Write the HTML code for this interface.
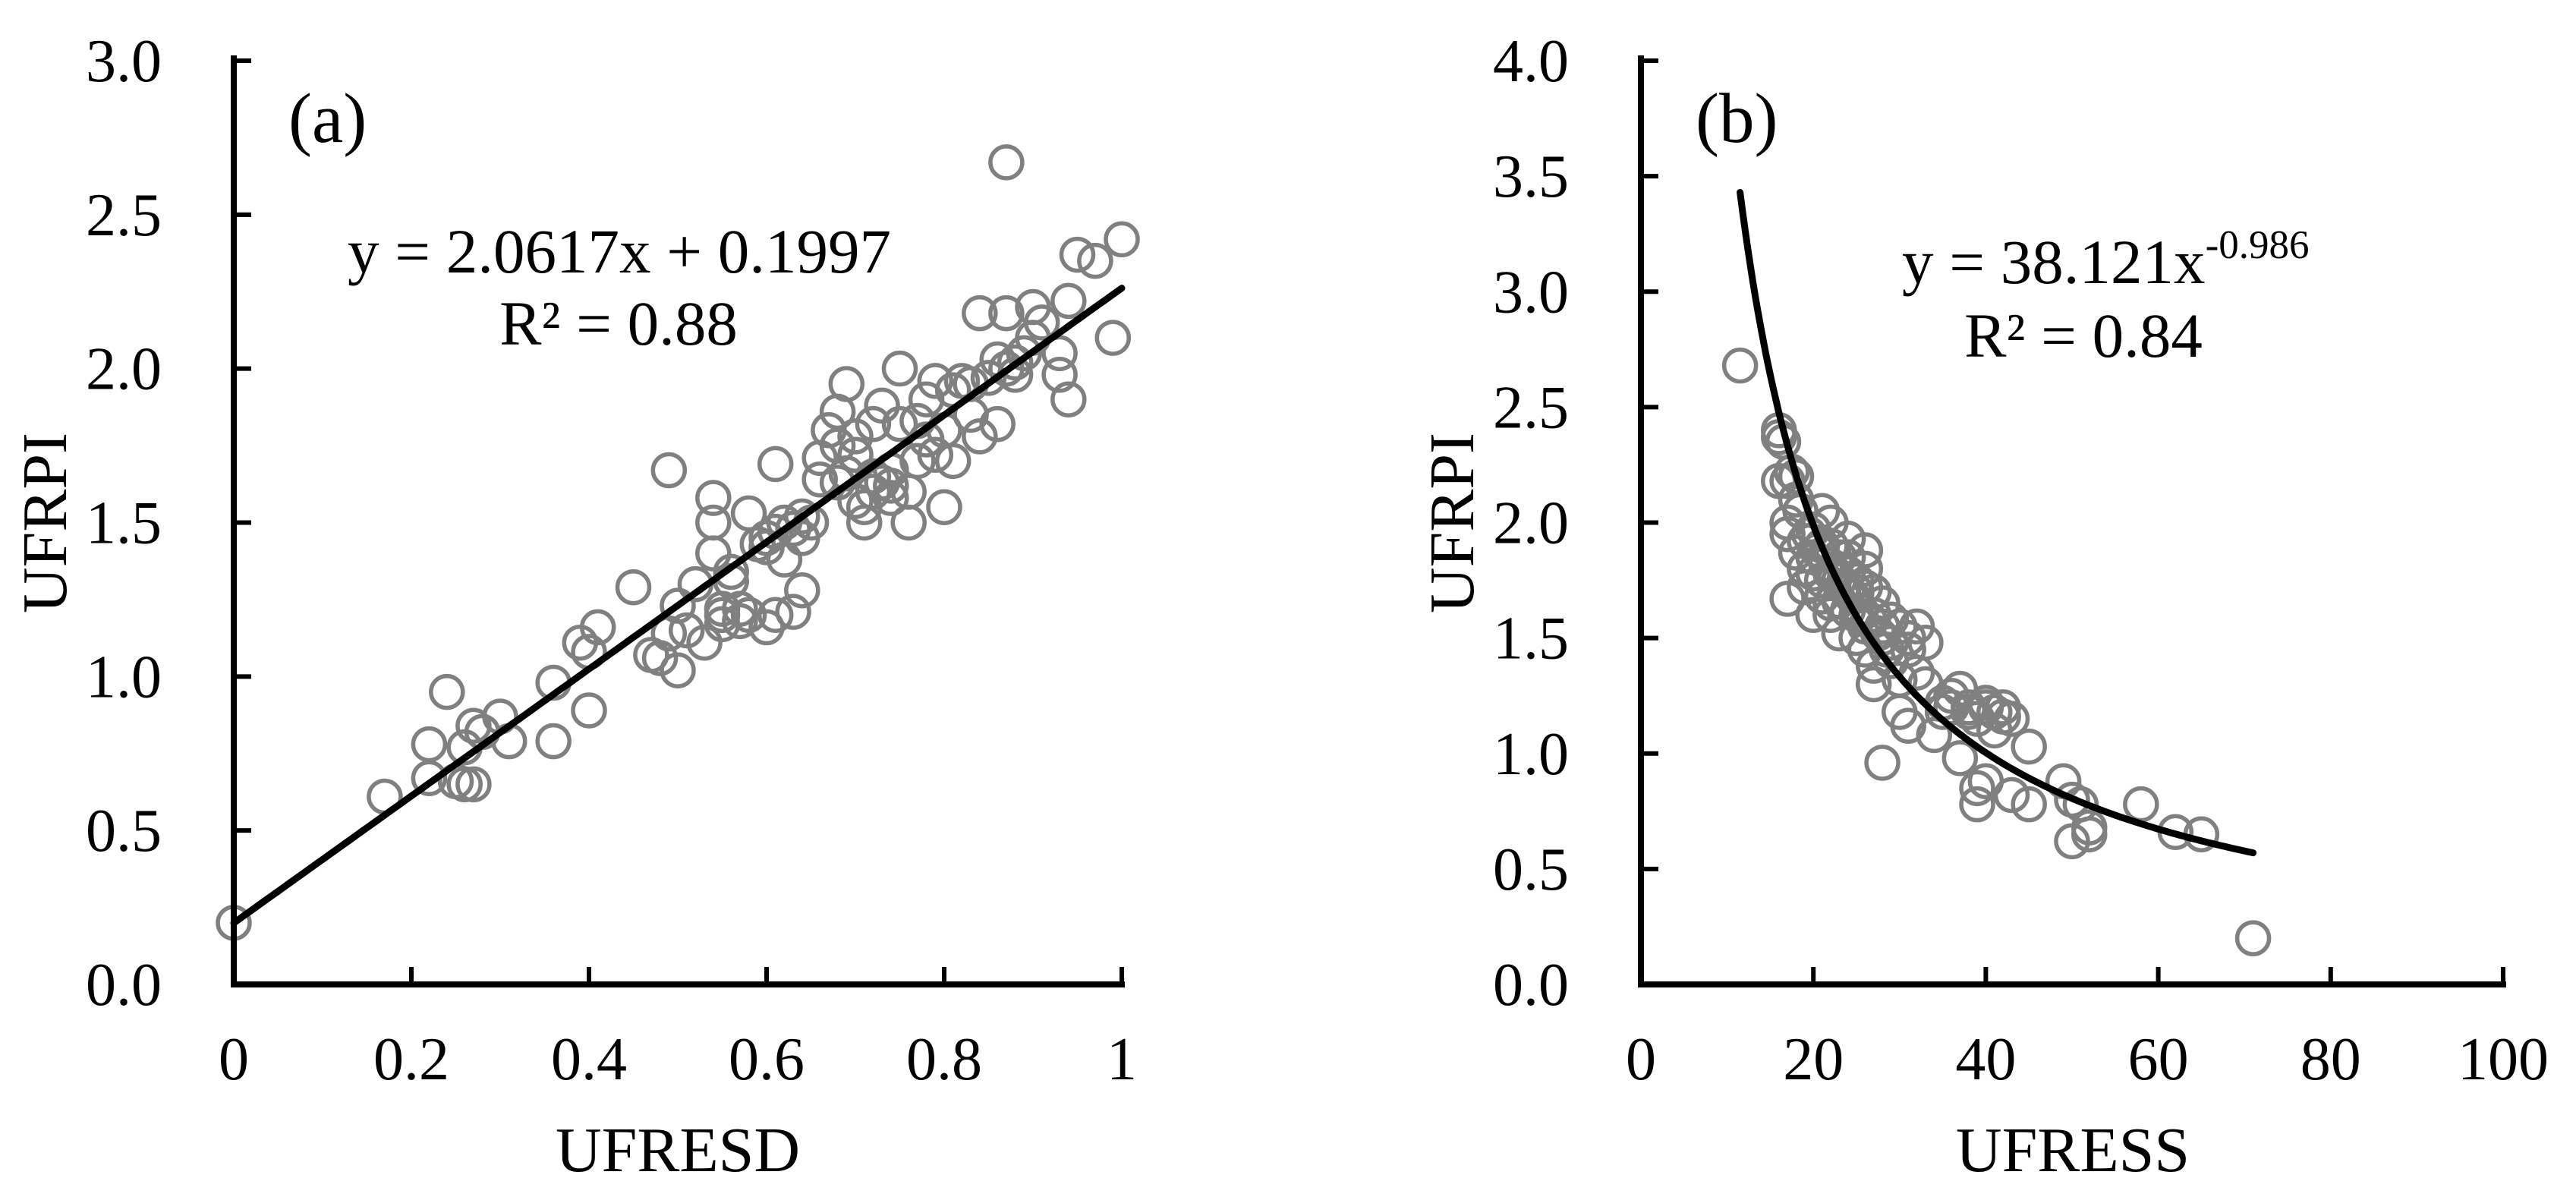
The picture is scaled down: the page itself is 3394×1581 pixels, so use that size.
<!DOCTYPE html>
<html><head><meta charset="utf-8">
<style>
html,body{margin:0;padding:0;background:#fff;}
svg{display:block;}
text{font-family:"Liberation Serif","DejaVu Serif",serif;fill:#000;}
</style></head>
<body>
<svg id="chart" width="3394" height="1581" viewBox="0 0 3394 1581" xmlns="http://www.w3.org/2000/svg">
<g id="pa"></g>
<g id="pb"></g>
</svg>
<script>
// Panel (a) data
const aX = [0,0.17,0.22,0.22,0.24,0.25,0.26,0.27,0.27,0.28,0.3,0.31,0.36,0.36,0.39,0.4,0.4,0.41,0.45,0.47,0.48,0.49,0.49,0.5,0.5,0.51,0.52,0.53,0.54,0.54,0.54,0.55,0.55,0.56,0.56,0.57,0.57,0.58,0.58,0.59,0.6,0.6,0.61,0.61,0.61,0.62,0.62,0.63,0.63,0.64,0.64,0.64,0.65,0.66,0.66,0.67,0.68,0.68,0.69,0.69,0.7,0.7,0.7,0.71,0.71,0.72,0.72,0.73,0.73,0.74,0.74,0.75,0.75,0.76,0.76,0.77,0.77,0.78,0.79,0.79,0.8,0.8,0.81,0.81,0.82,0.83,0.84,0.84,0.85,0.86,0.86,0.87,0.87,0.87,0.88,0.89,0.9,0.9,0.91,0.93,0.94,0.94,0.95,0.97,0.99,1.0,0.93,0.78,0.68,0.26,0.55,0.6,0.72,0.74,0.83,0.88];
const aY = [0.2,0.61,0.78,0.67,0.95,0.66,0.65,0.84,0.65,0.82,0.87,0.79,0.98,0.79,1.11,1.08,0.89,1.16,1.29,1.07,1.06,1.67,1.14,1.02,1.23,1.15,1.3,1.11,1.58,1.5,1.4,1.2,1.17,1.34,1.31,1.22,1.18,1.53,1.2,1.43,1.45,1.16,1.69,1.47,1.2,1.5,1.38,1.48,1.21,1.52,1.45,1.28,1.5,1.64,1.71,1.8,1.86,1.75,1.95,1.66,1.57,1.72,1.78,1.5,1.55,1.6,1.82,1.88,1.63,1.58,1.67,2.0,1.82,1.6,1.5,1.83,1.7,1.9,1.72,1.96,1.55,1.8,1.93,1.7,1.96,1.85,2.18,1.78,1.97,2.03,1.82,2.18,2.0,2.67,1.98,2.05,2.2,2.1,2.15,2.05,2.22,1.9,2.37,2.35,2.1,2.42,1.98,1.77,1.63,0.77,1.22,1.42,1.65,1.62,1.95,2.02];
const aTicksX = [0,0.2,0.4,0.6,0.8,1];
const aTickLabelsX = ["0","0.2","0.4","0.6","0.8","1"];
const aTicksY = [0,0.5,1,1.5,2,2.5,3];
const aTickLabelsY = ["0.0","0.5","1.0","1.5","2.0","2.5","3.0"];
const aSlope = 2.0617, aIntercept = 0.1997;

// Panel (b) data
const bX = [11.5,16,16,16.5,16,17,18,17,17,17,18,19,19,20,20,21,21,22,22,23,23,24,24,25,25,26,26,26,27,27,27,28,28,29,29,30,30,30,31,31,32,32,33,34,35,36,37,37,38,39,39,39,40,40,41,41,42,43,43,45,45,49,50,50,51,52,52,58,62,65,71,18,20,21,22,23,24,25,28,35,18.5,19.5,20.5,21.5,22.5,23.5,24.5,25.5,26.5,27.5,28.5,19,20,21,22,23,24,25,26,27,29,31,33,36,38,40,42,17.5,22,24,26,28];
const bY = [2.68,2.4,2.37,2.35,2.18,2.18,2.2,2.0,1.95,1.67,1.87,1.92,1.8,1.97,1.6,2.05,1.75,1.9,1.65,1.52,1.85,1.93,1.7,1.75,1.6,1.88,1.8,1.45,1.7,1.38,1.3,1.65,0.96,1.58,1.48,1.55,1.32,1.18,1.12,1.45,1.55,1.35,1.48,1.08,1.22,1.25,1.28,0.98,1.2,1.15,0.78,0.85,1.22,0.88,1.18,1.1,1.2,0.82,1.15,1.03,0.78,0.88,0.62,0.8,0.78,0.68,0.65,0.78,0.66,0.65,0.2,2.1,1.85,1.9,1.78,1.75,1.62,1.5,1.55,1.18,2.05,1.95,1.88,1.82,1.78,1.72,1.68,1.62,1.58,1.52,1.45,1.72,1.78,1.68,1.6,1.66,1.78,1.7,1.55,1.6,1.4,1.5,1.3,1.2,1.18,1.2,1.16,2.22,2.0,1.85,1.72,1.5];
const bTicksX = [0,20,40,60,80,100];
const bTickLabelsX = ["0","20","40","60","80","100"];
const bTicksY = [0,0.5,1,1.5,2,2.5,3,3.5,4];
const bTickLabelsY = ["0.0","0.5","1.0","1.5","2.0","2.5","3.0","3.5","4.0"];
const bCoef = 38.121, bExp = -0.986, bFitMin = 11.5, bFitMax = 71;

const NS = "http://www.w3.org/2000/svg";
function mk(parent, tag, attrs, txt){
  const e = document.createElementNS(NS, tag);
  for (const k in attrs) e.setAttribute(k, attrs[k]);
  if (txt !== undefined) e.textContent = txt;
  parent.appendChild(e);
  return e;
}

function panel(g, o){
  const X = v => o.x0 + (v - o.xmin) / (o.xmax - o.xmin) * (o.x1 - o.x0);
  const Y = v => o.y0 - (v - o.ymin) / (o.ymax - o.ymin) * (o.y0 - o.y1);
  const pg = mk(g, 'g', {});
  
  
  o.px.forEach((v, i) => {
    const c = mk(pg, 'circle', {cx: X(v), cy: Y(o.py[i]), r: 21, fill: 'none', stroke: '#808080', 'stroke-width': 5.5});
    
    
  });
  const pts = [];
  for (let k = 0; k <= 200; k++) {
    const xv = o.fmin + (o.fmax - o.fmin) * k / 200;
    pts.push(X(xv).toFixed(1) + ',' + Y(o.f(xv)).toFixed(1));
  }
  const fl = mk(g, 'polyline', {points: pts.join(' '), fill: 'none', stroke: '#000', 'stroke-width': 9, 'stroke-linecap': 'round'});
  
  
  const ax = mk(g, 'path', {d: `M${o.x0},${o.y1-3} L${o.x0},${o.y0} L${o.x1},${o.y0}`, fill: 'none', stroke: '#000', 'stroke-width': 8, 'stroke-linecap': 'square'});
  
  
  o.tx.forEach((v, i) => {
    const t = mk(g, 'line', {x1: X(v), x2: X(v), y1: o.y0, y2: o.y0 - 23, stroke: '#000', 'stroke-width': 6});
    
    
    const l = mk(g, 'text', {x: X(v), y: 1422, 'font-size': 80, 'text-anchor': 'middle'}, o.txl[i]);
    
    
  });
  o.ty.forEach((v, i) => {
    const t = mk(g, 'line', {x1: o.x0, x2: o.x0 + 23, y1: Y(v), y2: Y(v), stroke: '#000', 'stroke-width': 6});
    
    
    const l = mk(g, 'text', {x: o.x0 - 95, y: Y(v) + 27, 'font-size': 80, 'text-anchor': 'end'}, o.tyl[i]);
    
    
  });
  const xt = mk(g, 'text', {x: o.xtx, y: 1543, 'font-size': 84, 'text-anchor': 'middle'}, o.xtitle);
  
  
  const yt = mk(g, 'text', {x: 0, y: 0, 'font-size': 84, 'text-anchor': 'middle', transform: `translate(${o.x0 - 221},689) rotate(-90)`}, 'UFRPI');
  
  
  const pl = mk(g, 'text', {x: o.x0 + 72, y: 187, 'font-size': 93}, o.label);
  
  
}

const ga = document.getElementById('pa');
panel(ga, {id: 'panel-a', x0: 308, x1: 1478, y0: 1297, y1: 80, xmin: 0, xmax: 1, ymin: 0, ymax: 3,
  px: aX, py: aY, tx: aTicksX, txl: aTickLabelsX, ty: aTicksY, tyl: aTickLabelsY,
  f: x => aSlope * x + aIntercept, fmin: 0, fmax: 1, xtitle: 'UFRESD', xtx: 893, label: '(a)'});
const ea = mk(ga, 'text', {x: 816, y: 359, 'font-size': 83, 'text-anchor': 'middle'}, 'y = 2.0617x + 0.1997');


const ra = mk(ga, 'text', {x: 815, y: 454, 'font-size': 83, 'text-anchor': 'middle'}, 'R² = 0.88');



const gb = document.getElementById('pb');
panel(gb, {id: 'panel-b', x0: 2162, x1: 3298, y0: 1297, y1: 80, xmin: 0, xmax: 100, ymin: 0, ymax: 4,
  px: bX, py: bY, tx: bTicksX, txl: bTickLabelsX, ty: bTicksY, tyl: bTickLabelsY,
  f: x => bCoef * Math.pow(x, bExp), fmin: bFitMin, fmax: bFitMax, xtitle: 'UFRESS', xtx: 2731, label: '(b)'});
const eb = mk(gb, 'text', {x: 2506, y: 373, 'font-size': 83});


mk(eb, 'tspan', {}, 'y = 38.121x');
mk(eb, 'tspan', {'font-size': 53, dy: -33}, '-0.986');
const rb = mk(gb, 'text', {x: 2745, y: 470, 'font-size': 83, 'text-anchor': 'middle'}, 'R² = 0.84');


</script>
</body></html>
